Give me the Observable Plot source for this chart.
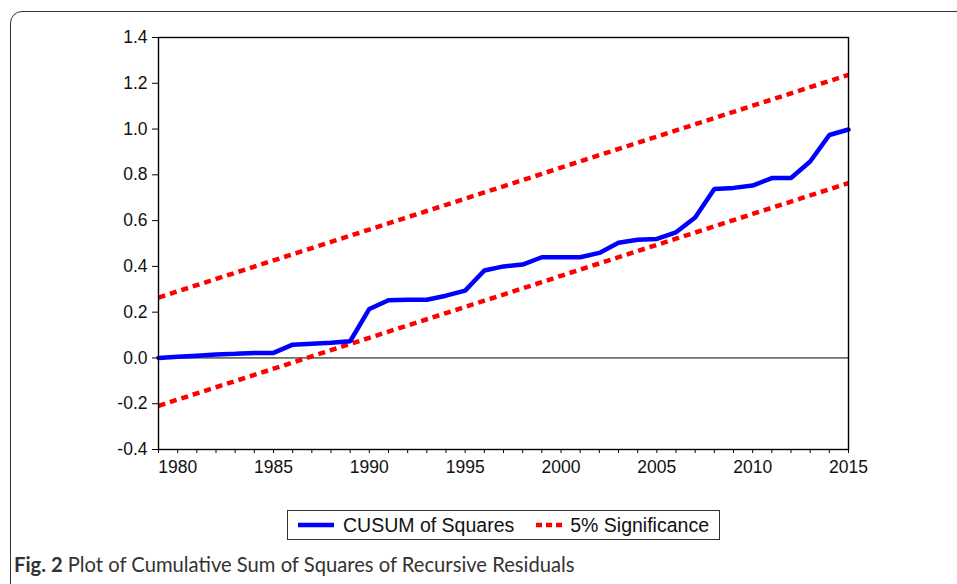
<!DOCTYPE html>
<html>
<head>
<meta charset="utf-8">
<script src="https://cdn.jsdelivr.net/npm/d3@7"></script>
<script src="https://cdn.jsdelivr.net/npm/@observablehq/plot@0.6"></script>
<style>
  html, body { margin: 0; padding: 0; background: #fff; width: 957px; height: 584px; overflow: hidden; }
  #wrap { position: relative; width: 957px; height: 584px; overflow: hidden; }
  #frame { position: absolute; left: 10px; top: 11px; width: 1000px; height: 585px; border: 1.6px solid #333; border-radius: 12px; box-sizing: border-box; }
  #chart { position: absolute; left: 0; top: 0; }
  #legend { position: absolute; left: 287px; top: 510px; width: 433px; height: 30px; border: 1px solid #333; box-sizing: border-box; background: #fff;
            font-family: "Liberation Sans", Arial, sans-serif; font-size: 19.5px; color: #111; display: flex; align-items: center; }
  #legend .item { display: flex; align-items: center; }
  #legend svg { display: block; }
  #caption { position: absolute; left: 14px; top: 552px; font-family: Lato, "Open Sans", sans-serif; font-size: 20.2px; color: #333; white-space: nowrap; }
  #caption b { color: #333; }
</style>
</head>
<body>
<div id="wrap">
  <div id="frame"></div>
  <div id="chart"></div>
  <div id="legend">
    <div class="item" style="margin-left:9px">
      <svg width="38" height="10"><line x1="1" y1="5" x2="37" y2="5" stroke="#0000ff" stroke-width="4.5"/></svg>
      <span style="margin-left:8px">CUSUM of Squares</span>
    </div>
    <div class="item" style="margin-left:22px">
      <svg width="27" height="10"><line x1="0" y1="5" x2="26" y2="5" stroke="#ff0000" stroke-width="4.5" stroke-dasharray="6,4"/></svg>
      <span style="margin-left:7px">5% Significance</span>
    </div>
  </div>
  <div id="caption"><b>Fig. 2</b> Plot of Cumulative Sum of Squares of Recursive Residuals</div>
</div>
<script>
const years = d3.range(1979, 2016);
const cusum = [0.000, 0.005, 0.010, 0.015, 0.018, 0.022, 0.022, 0.058, 0.062, 0.066, 0.073,
               0.214, 0.252, 0.254, 0.254, 0.272, 0.294, 0.382, 0.400, 0.408, 0.440,
               0.440, 0.440, 0.459, 0.503, 0.516, 0.520, 0.549, 0.614, 0.738, 0.743,
               0.753, 0.786, 0.786, 0.858, 0.974, 0.998];
const lower = [-0.209, -0.182, -0.155, -0.128, -0.101, -0.074, -0.047, -0.020, 0.007, 0.034, 0.061,
               0.088, 0.115, 0.142, 0.169, 0.196, 0.223, 0.250, 0.277, 0.304, 0.331,
               0.359, 0.386, 0.413, 0.440, 0.467, 0.494, 0.521, 0.548, 0.575, 0.602,
               0.629, 0.656, 0.683, 0.710, 0.737, 0.764];
const upper = [0.264, 0.291, 0.318, 0.345, 0.372, 0.399, 0.426, 0.453, 0.480, 0.507, 0.534,
               0.561, 0.588, 0.615, 0.642, 0.669, 0.696, 0.723, 0.750, 0.777, 0.804,
               0.832, 0.859, 0.886, 0.913, 0.940, 0.967, 0.994, 1.021, 1.048, 1.075,
               1.102, 1.129, 1.156, 1.183, 1.210, 1.237];
const yTicks = [-0.4, -0.2, 0.0, 0.2, 0.4, 0.6, 0.8, 1.0, 1.2, 1.4];
const xLabelTicks = [1980, 1985, 1990, 1995, 2000, 2005, 2010, 2015];

const cusumData = years.map((y, i) => ({year: y, value: cusum[i]}));
const lowerData = years.map((y, i) => ({year: y, value: lower[i]}));
const upperData = years.map((y, i) => ({year: y, value: upper[i]}));

const chart = Plot.plot({
  width: 957,
  height: 490,
  marginLeft: 158,
  marginRight: 109,
  marginTop: 37,
  marginBottom: 41,
  style: { fontFamily: "'Liberation Sans', Arial, sans-serif", fontSize: "17px", color: "#111", background: "transparent" },
  x: { domain: [1979, 2015] },
  y: { domain: [-0.4, 1.4] },
  marks: [
    Plot.ruleY([0], { stroke: "#000", strokeWidth: 1 }),
    Plot.line(lowerData, { x: "year", y: "value", stroke: "#ff0000", strokeWidth: 4.5, strokeDasharray: "7,5", strokeLinecap: "butt" }),
    Plot.line(upperData, { x: "year", y: "value", stroke: "#ff0000", strokeWidth: 4.5, strokeDasharray: "7,5", strokeLinecap: "butt" }),
    Plot.line(cusumData, { x: "year", y: "value", stroke: "#0000ff", strokeWidth: 4.5, strokeLinejoin: "miter" }),
    Plot.axisY({ ticks: yTicks, tickSize: 6, tickPadding: 5, tickFormat: d => d.toFixed(1), label: null, stroke: "#000", fontSize: 17.5 }),
    Plot.axisX({ ticks: years, tickSize: 4, tickFormat: () => "", label: null, stroke: "#000" }),
    Plot.axisX({ ticks: xLabelTicks, tickSize: 0, tickPadding: 11, tickFormat: d => String(d), label: null, fontSize: 17.5 }),
    Plot.frame({ stroke: "#000", strokeWidth: 1.4 })
  ]
});
document.getElementById("chart").appendChild(chart);
</script>
</body>
</html>
